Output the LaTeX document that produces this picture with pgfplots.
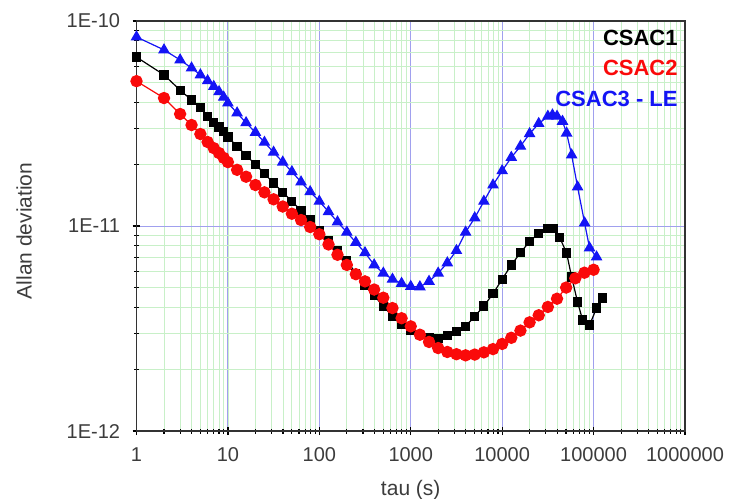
\documentclass[border=0pt]{standalone}
\usepackage{fontspec}
\setmainfont{Liberation Sans}
\usepackage{pgfplots}
\usepackage{pgfplotstable}
\pgfplotsset{compat=1.18}
\definecolor{csacblack}{RGB}{0,0,0}
\definecolor{csacred}{RGB}{250,10,10}
\definecolor{csacblue}{RGB}{20,20,245}
\definecolor{majorgrid}{RGB}{160,160,238}
\definecolor{minorgrid}{RGB}{200,240,200}
\definecolor{labelgray}{RGB}{60,60,60}

% tau (s)   Allan deviation
\pgfplotstableread{
tau sigma
1 6.67e-11
2 5.46e-11
3 4.60e-11
4 4.12e-11
5 3.77e-11
6 3.43e-11
7 3.20e-11
8 3.04e-11
9 2.88e-11
10 2.72e-11
12.6 2.45e-11
15.8 2.21e-11
20 2.00e-11
25.1 1.80e-11
31.6 1.62e-11
39.8 1.46e-11
50.1 1.32e-11
63.1 1.19e-11
79.4 1.07e-11
100 9.55e-12
126 8.51e-12
158 7.59e-12
200 6.76e-12
251 5.89e-12
316 5.13e-12
398 4.57e-12
501 4.07e-12
631 3.63e-12
794 3.31e-12
1000 3.09e-12
1259 2.95e-12
1585 2.87e-12
1995 2.84e-12
2512 2.92e-12
3162 3.05e-12
3981 3.24e-12
5012 3.63e-12
6310 4.07e-12
7943 4.68e-12
10000 5.50e-12
12589 6.46e-12
15849 7.41e-12
19953 8.41e-12
25119 9.23e-12
31623 9.77e-12
36308 9.73e-12
42462 8.83e-12
50699 7.38e-12
57544 5.64e-12
66834 4.26e-12
75858 3.48e-12
90365 3.29e-12
107895 3.98e-12
125314 4.46e-12
}\csacone

\pgfplotstableread{
tau sigma
1 5.09e-11
2 4.21e-11
3 3.52e-11
4 3.11e-11
5 2.81e-11
6 2.57e-11
7 2.40e-11
8 2.27e-11
9 2.15e-11
10 2.05e-11
12.6 1.88e-11
15.8 1.74e-11
20 1.585e-11
25.1 1.46e-11
31.6 1.35e-11
39.8 1.245e-11
50.1 1.148e-11
63.1 1.07e-11
79.4 9.89e-12
100 9.12e-12
126 8.13e-12
158 7.24e-12
200 6.46e-12
251 5.82e-12
316 5.37e-12
398 4.90e-12
501 4.47e-12
631 3.98e-12
794 3.55e-12
1000 3.24e-12
1259 2.95e-12
1585 2.72e-12
1995 2.54e-12
2512 2.43e-12
3162 2.37e-12
3981 2.34e-12
5012 2.36e-12
6310 2.42e-12
7943 2.51e-12
10000 2.66e-12
12589 2.85e-12
15849 3.09e-12
19953 3.39e-12
25119 3.67e-12
31623 4.03e-12
39811 4.42e-12
50119 5.01e-12
63096 5.56e-12
79433 5.92e-12
100000 6.12e-12
}\csactwo

\pgfplotstableread{
tau sigma
1 8.36e-11
2 7.23e-11
3 6.46e-11
4 5.90e-11
5 5.46e-11
6 5.11e-11
7 4.79e-11
8 4.52e-11
9 4.25e-11
10 3.98e-11
12.6 3.56e-11
15.8 3.19e-11
20 2.86e-11
25.1 2.56e-11
31.6 2.29e-11
39.8 2.05e-11
50.1 1.84e-11
63.1 1.64e-11
79.4 1.47e-11
100 1.32e-11
126 1.175e-11
158 1.047e-11
200 9.33e-12
251 8.32e-12
316 7.41e-12
398 6.46e-12
501 5.89e-12
631 5.50e-12
794 5.25e-12
1000 5.07e-12
1259 5.05e-12
1585 5.37e-12
1995 5.89e-12
2512 6.61e-12
3162 7.59e-12
3981 9.33e-12
5012 1.096e-11
6310 1.32e-11
7943 1.585e-11
10000 1.86e-11
12589 2.16e-11
15849 2.45e-11
19953 2.82e-11
25119 3.16e-11
31623 3.43e-11
35481 3.48e-11
39811 3.43e-11
45709 3.24e-11
50699 2.84e-11
57544 2.22e-11
66834 1.55e-11
79799 1.035e-11
90365 7.82e-12
107895 7.06e-12
}\csacthree

\begin{document}
\begin{tikzpicture}
\path[use as bounding box] (-68.25bp,-34bp) rectangle (297.25bp,215.5bp);
\begin{axis}[
  at={(0,0)}, anchor=south west,
  scale only axis,
  width=274.25bp, height=205bp,
  xmode=log, ymode=log,
  xmin=1, xmax=1e6,
  ymin=1e-12, ymax=1e-10,
  xtick={1,10,100,1000,10000,100000,1000000},
  xticklabels={1,10,100,1000,10000,100000,1000000},
  ytick={1e-12,1e-11,1e-10},
  yticklabels={1E-12,1E-11,1E-10},
  tick pos=left,
  tick align=center,
  major tick length=4bp,
  minor tick length=2.5bp,
  every tick/.style={black, line width=0.6bp},
  grid=both,
  major grid style={majorgrid, line width=0.5bp},
  minor grid style={minorgrid, line width=0.4bp},
  axis line style={black!80, line width=0.8bp},
  ticklabel style={font=\fontsize{10bp}{12bp}\selectfont, text=labelgray},
  xticklabel style={anchor=north, inner sep=0pt, yshift=-6bp},
  yticklabel style={anchor=east, inner sep=0pt, xshift=-6bp},
  xlabel={tau (s)},
  ylabel={Allan deviation},
  label style={font=\fontsize{10.5bp}{12bp}\selectfont, text=labelgray},
  xlabel style={at={(axis description cs:0.5,0)}, anchor=center, yshift=-29.5bp},
  ylabel style={at={(axis description cs:0,0.5)}, anchor=center, yshift=56.25bp, xshift=-2.5bp},
  legend style={draw=none, fill=none, at={(rel axis cs:1,1)}, anchor=north east,
    xshift=-3.5bp, yshift=-4bp, inner sep=0pt, row sep=7.3bp,
    font=\fontsize{11bp}{13bp}\selectfont\bfseries,
    nodes={inner sep=0pt, text height=7.9bp, text depth=0pt}},
  legend cell align=right,
  legend image code/.code={},
]
\addplot[csacblack, line width=0.6bp, mark=square*, mark size=2bp,
  mark options={solid, fill=csacblack}] table[x=tau, y=sigma] {\csacone};
\addlegendentry{\textcolor{csacblack}{CSAC1}}
\addplot[csacred, line width=0.6bp, mark=*, mark size=2.8bp,
  mark options={solid, fill=csacred}] table[x=tau, y=sigma] {\csactwo};
\addlegendentry{\textcolor{csacred}{CSAC2}}
\addplot[csacblue, line width=0.6bp, mark=triangle*, mark size=2.8bp,
  mark options={solid, fill=csacblue}] table[x=tau, y=sigma] {\csacthree};
\addlegendentry{\textcolor{csacblue}{CSAC3 - LE}}
\end{axis}
\end{tikzpicture}
\end{document}
